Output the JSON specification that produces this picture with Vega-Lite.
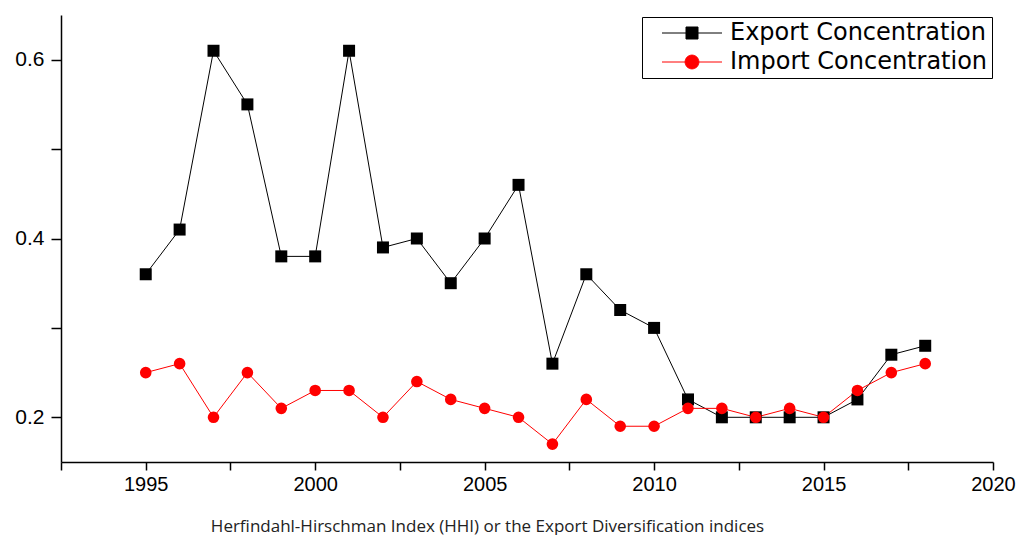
{
  "$schema": "https://vega.github.io/schema/vega-lite/v6.json",
  "width": 932,
  "height": 447,
  "autosize": {"type": "none"},
  "padding": {"left": 61, "top": 15, "right": 26, "bottom": 73},
  "background": "white",
  "config": {"view": {"stroke": null}, "font": "Liberation Sans"},
  "data": {
    "values": [
      {"year": 1995, "series": "Export Concentration", "value": 0.36},
      {"year": 1996, "series": "Export Concentration", "value": 0.41},
      {"year": 1997, "series": "Export Concentration", "value": 0.61},
      {"year": 1998, "series": "Export Concentration", "value": 0.55},
      {"year": 1999, "series": "Export Concentration", "value": 0.38},
      {"year": 2000, "series": "Export Concentration", "value": 0.38},
      {"year": 2001, "series": "Export Concentration", "value": 0.61},
      {"year": 2002, "series": "Export Concentration", "value": 0.39},
      {"year": 2003, "series": "Export Concentration", "value": 0.40},
      {"year": 2004, "series": "Export Concentration", "value": 0.35},
      {"year": 2005, "series": "Export Concentration", "value": 0.40},
      {"year": 2006, "series": "Export Concentration", "value": 0.46},
      {"year": 2007, "series": "Export Concentration", "value": 0.26},
      {"year": 2008, "series": "Export Concentration", "value": 0.36},
      {"year": 2009, "series": "Export Concentration", "value": 0.32},
      {"year": 2010, "series": "Export Concentration", "value": 0.30},
      {"year": 2011, "series": "Export Concentration", "value": 0.22},
      {"year": 2012, "series": "Export Concentration", "value": 0.20},
      {"year": 2013, "series": "Export Concentration", "value": 0.20},
      {"year": 2014, "series": "Export Concentration", "value": 0.20},
      {"year": 2015, "series": "Export Concentration", "value": 0.20},
      {"year": 2016, "series": "Export Concentration", "value": 0.22},
      {"year": 2017, "series": "Export Concentration", "value": 0.27},
      {"year": 2018, "series": "Export Concentration", "value": 0.28},
      {"year": 1995, "series": "Import Concentration", "value": 0.25},
      {"year": 1996, "series": "Import Concentration", "value": 0.26},
      {"year": 1997, "series": "Import Concentration", "value": 0.20},
      {"year": 1998, "series": "Import Concentration", "value": 0.25},
      {"year": 1999, "series": "Import Concentration", "value": 0.21},
      {"year": 2000, "series": "Import Concentration", "value": 0.23},
      {"year": 2001, "series": "Import Concentration", "value": 0.23},
      {"year": 2002, "series": "Import Concentration", "value": 0.20},
      {"year": 2003, "series": "Import Concentration", "value": 0.24},
      {"year": 2004, "series": "Import Concentration", "value": 0.22},
      {"year": 2005, "series": "Import Concentration", "value": 0.21},
      {"year": 2006, "series": "Import Concentration", "value": 0.20},
      {"year": 2007, "series": "Import Concentration", "value": 0.17},
      {"year": 2008, "series": "Import Concentration", "value": 0.22},
      {"year": 2009, "series": "Import Concentration", "value": 0.19},
      {"year": 2010, "series": "Import Concentration", "value": 0.19},
      {"year": 2011, "series": "Import Concentration", "value": 0.21},
      {"year": 2012, "series": "Import Concentration", "value": 0.21},
      {"year": 2013, "series": "Import Concentration", "value": 0.20},
      {"year": 2014, "series": "Import Concentration", "value": 0.21},
      {"year": 2015, "series": "Import Concentration", "value": 0.20},
      {"year": 2016, "series": "Import Concentration", "value": 0.23},
      {"year": 2017, "series": "Import Concentration", "value": 0.25},
      {"year": 2018, "series": "Import Concentration", "value": 0.26}
    ]
  },
  "encoding": {
    "x": {
      "field": "year",
      "type": "quantitative",
      "scale": {"domain": [1992.5, 2020], "nice": false, "zero": false},
      "axis": {
        "title": "Herfindahl-Hirschman Index (HHI) or the Export Diversification indices",
        "titleFont": "Open Sans",
        "titleFontSize": 17,
        "titleFontWeight": "normal",
        "titleColor": "#222222",
        "titleX": 426,
        "titleY": 69,
        "titleAlign": "center",
        "titleBaseline": "alphabetic",
        "values": [1992.5, 1995, 1997.5, 2000, 2002.5, 2005, 2007.5, 2010, 2012.5, 2015, 2017.5, 2020],
        "labelExpr": "datum.value % 5 == 0 ? format(datum.value, 'd') : ''",
        "labelFont": "Liberation Sans",
        "labelFontSize": 20,
        "labelColor": "black",
        "labelPadding": 4,
        "labelOverlap": false,
        "labelFlush": false,
        "labelBound": false,
        "tickSize": 8,
        "tickColor": "black",
        "tickWidth": 1.5,
        "domainColor": "black",
        "domainWidth": 1.5,
        "grid": false
      }
    },
    "y": {
      "field": "value",
      "type": "quantitative",
      "scale": {"domain": [0.15, 0.65], "nice": false, "zero": false},
      "axis": {
        "title": null,
        "values": [0.2, 0.3, 0.4, 0.5, 0.6],
        "labelExpr": "round(datum.value * 10) % 2 == 0 ? format(datum.value, '.1f') : ''",
        "labelFont": "Liberation Sans",
        "labelFontSize": 21,
        "labelColor": "black",
        "labelPadding": 7,
        "labelOverlap": false,
        "labelFlush": false,
        "labelBound": false,
        "tickSize": 10,
        "tickColor": "black",
        "tickWidth": 1.5,
        "domainColor": "black",
        "domainWidth": 1.5,
        "grid": false
      }
    },
    "color": {
      "field": "series",
      "type": "nominal",
      "scale": {"domain": ["Export Concentration", "Import Concentration"], "range": ["black", "#ff0000"]},
      "legend": {
        "title": null,
        "orient": "none",
        "legendX": 581,
        "legendY": 2,
        "direction": "vertical",
        "strokeColor": "black",
        "fillColor": "white",
        "padding": 4,
        "labelFont": "DejaVu Sans",
        "labelFontSize": 24,
        "labelColor": "black",
        "labelOffset": 26,
        "rowPadding": 5,
        "symbolOffset": 34,
        "symbolSize": 144,
        "symbolStrokeWidth": 1,
        "labelLimit": 400,
        "encode": {
          "symbols": {
            "update": {
              "shape": {"signal": "datum.value == 'Export Concentration' ? 'M-5,0L5,0M-1,-1L1,-1L1,1L-1,1Z' : 'M-5,0L5,0M1.15,0A1.15,1.15,0,1,1,-1.15,0A1.15,1.15,0,1,1,1.15,0Z'"},
              "fill": {"signal": "datum.value == 'Export Concentration' ? 'black' : '#ff0000'"},
              "stroke": {"signal": "datum.value == 'Export Concentration' ? 'black' : '#ff0000'"},
              "strokeWidth": {"value": 1},
              "size": {"value": 144},
              "opacity": {"value": 1}
            }
          }
        }
      }
    }
  },
  "layer": [
    {
      "mark": {"type": "line", "strokeWidth": 1},
      "encoding": {"detail": {"field": "series"}}
    },
    {
      "transform": [{"filter": "datum.series == 'Export Concentration'"}],
      "mark": {"type": "point", "filled": true, "opacity": 1, "size": 144, "shape": "square"}
    },
    {
      "transform": [{"filter": "datum.series == 'Import Concentration'"}],
      "mark": {"type": "point", "filled": true, "opacity": 1, "size": 135, "shape": "circle"}
    }
  ]
}
